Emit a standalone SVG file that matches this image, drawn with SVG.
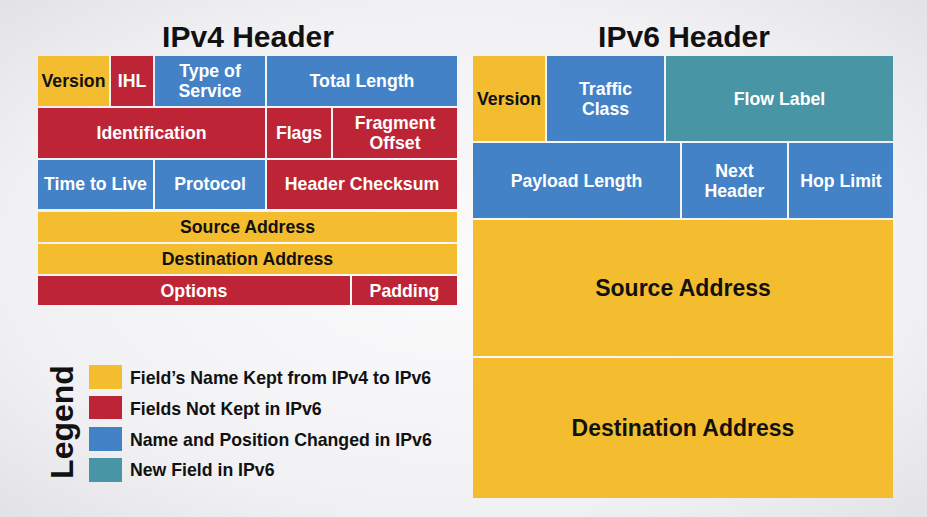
<svg xmlns="http://www.w3.org/2000/svg" width="927" height="517" viewBox="0 0 927 517">
<defs>
<radialGradient id="bg" cx="50%" cy="50%" r="70%">
<stop offset="0" stop-color="#FBFBFC"/>
<stop offset="0.7" stop-color="#F1F0F3"/>
<stop offset="1" stop-color="#E3E2E6"/>
</radialGradient>
<style>
.y{fill:#F4BD2F}
.r{fill:#BD2536}
.b{fill:#4382C7}
.t{fill:#4896A5}
text{font-family:"Liberation Sans",Arial,sans-serif;font-weight:bold;text-anchor:middle}
.w{fill:#FFFFFF;font-size:17.7px}
.k{fill:#111111;font-size:17.7px}
.big{fill:#111111;font-size:23px}
.title{fill:#111111;font-size:30px}
.lg{fill:#111111;font-size:32px}
.leg{fill:#111111;font-size:17.7px;text-anchor:start}
</style>
</defs>
<rect width="927" height="517" fill="url(#bg)"/>

<text class="title" x="248" y="47">IPv4 Header</text>
<text class="title" x="684" y="47">IPv6 Header</text>

<g id="ipv4">
<g id="v4-version"><rect class="y" x="38" y="56" width="71" height="50"/><text class="k" x="73.5" y="87">Version</text></g>
<g id="v4-ihl"><rect class="r" x="111" y="56" width="42" height="50"/><text class="w" x="132" y="87">IHL</text></g>
<g id="v4-tos"><rect class="b" x="155" y="56" width="110" height="50"/><text class="w" x="210" y="77">Type of</text><text class="w" x="210" y="97">Service</text></g>
<g id="v4-totallength"><rect class="b" x="267" y="56" width="190" height="50"/><text class="w" x="362" y="87">Total Length</text></g>
<g id="v4-identification"><rect class="r" x="38" y="108" width="227" height="50"/><text class="w" x="151.5" y="139">Identification</text></g>
<g id="v4-flags"><rect class="r" x="267" y="108" width="64" height="50"/><text class="w" x="299" y="139">Flags</text></g>
<g id="v4-fragment"><rect class="r" x="333" y="108" width="124" height="50"/><text class="w" x="395" y="129">Fragment</text><text class="w" x="395" y="149">Offset</text></g>
<g id="v4-ttl"><rect class="b" x="38" y="160" width="115" height="49"/><text class="w" x="95.5" y="190">Time to Live</text></g>
<g id="v4-protocol"><rect class="b" x="155" y="160" width="110" height="49"/><text class="w" x="210" y="190">Protocol</text></g>
<g id="v4-checksum"><rect class="r" x="267" y="160" width="190" height="49"/><text class="w" x="362" y="190">Header Checksum</text></g>
<g id="v4-source"><rect class="y" x="38" y="212" width="419" height="30"/><text class="k" x="247.5" y="233">Source Address</text></g>
<g id="v4-destination"><rect class="y" x="38" y="244" width="419" height="30"/><text class="k" x="247.5" y="265">Destination Address</text></g>
<g id="v4-options"><rect class="r" x="38" y="276" width="312" height="29"/><text class="w" x="194" y="296.5">Options</text></g>
<g id="v4-padding"><rect class="r" x="352" y="276" width="105" height="29"/><text class="w" x="404.5" y="296.5">Padding</text></g>
</g>

<g id="ipv6">
<g id="v6-version"><rect class="y" x="473" y="56" width="72" height="85"/><text class="k" x="509" y="105">Version</text></g>
<g id="v6-traffic"><rect class="b" x="547" y="56" width="117" height="85"/><text class="w" x="605.5" y="95">Traffic</text><text class="w" x="605.5" y="115">Class</text></g>
<g id="v6-flow"><rect class="t" x="666" y="56" width="227" height="85"/><text class="w" x="779.5" y="105">Flow Label</text></g>
<g id="v6-payload"><rect class="b" x="473" y="143" width="207" height="75"/><text class="w" x="576.5" y="187">Payload Length</text></g>
<g id="v6-next"><rect class="b" x="682" y="143" width="105" height="75"/><text class="w" x="734.5" y="177">Next</text><text class="w" x="734.5" y="197">Header</text></g>
<g id="v6-hop"><rect class="b" x="789" y="143" width="104" height="75"/><text class="w" x="841" y="187">Hop Limit</text></g>
<g id="v6-source"><rect class="y" x="473" y="220" width="420" height="136"/><text class="big" x="683" y="296">Source Address</text></g>
<g id="v6-destination"><rect class="y" x="473" y="358" width="420" height="140"/><text class="big" x="683" y="436">Destination Address</text></g>
</g>

<g id="legend">
<text class="lg" transform="translate(73 422) rotate(-90)" x="0" y="0">Legend</text>
<g id="leg-kept"><rect class="y" x="89" y="365" width="33" height="24"/><text class="leg" x="130" y="384">Field’s Name Kept from IPv4 to IPv6</text></g>
<g id="leg-notkept"><rect class="r" x="89" y="396" width="33" height="23"/><text class="leg" x="130" y="415">Fields Not Kept in IPv6</text></g>
<g id="leg-changed"><rect class="b" x="89" y="427" width="33" height="24"/><text class="leg" x="130" y="446">Name and Position Changed in IPv6</text></g>
<g id="leg-new"><rect class="t" x="89" y="458" width="33" height="24"/><text class="leg" x="130" y="476">New Field in IPv6</text></g>
</g>
</svg>
